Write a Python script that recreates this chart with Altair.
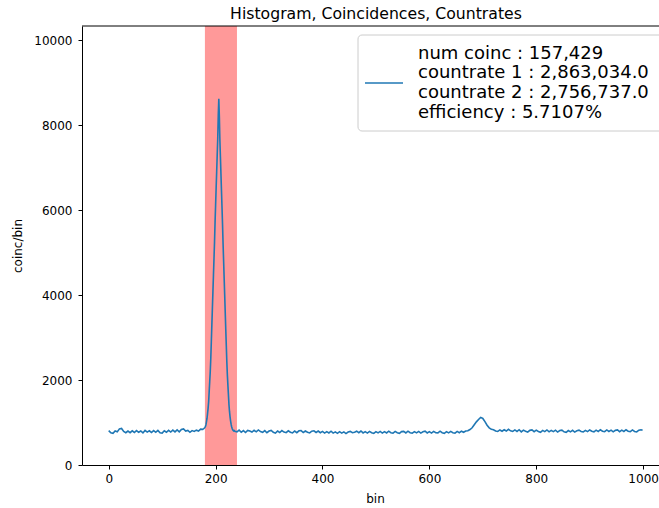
import altair as alt
import pandas as pd

# ---- data ----
step = 4
bins_a = list(range(0, 176, step))          # 0 .. 172
counts_a = [810, 760, 745, 800, 780, 850, 860, 790, 760, 800,
            760, 805, 765, 810, 770, 800, 755, 815, 775, 805,
            765, 810, 770, 815, 760, 750, 805, 770, 815, 775,
            820, 780, 825, 780, 835, 850, 800, 815, 770, 810,
            790, 820, 800, 845]

bins_peak = list(range(176, 237))           # 176 .. 236
counts_peak = [840, 850, 855, 870, 885, 910, 950, 1025, 1100, 1220,
               1340, 1495, 1730, 1965, 2200, 2510, 2900, 3300, 3690, 4080,
               4470, 4860, 5250, 5720, 6110, 6510, 6900, 7290, 7680, 8230,
               8620, 8200, 7650, 7250, 6850, 6450, 6060, 5650, 5200, 4800,
               4400, 4000, 3600, 3200, 2820, 2430, 2120, 1880, 1650, 1420,
               1260, 1140, 1040, 960, 900, 860, 830, 815, 800, 810,
               795]

bins_b = list(range(240, 1000, step)) + [999]
counts_b = [780, 820, 770, 810, 765, 815, 800, 775, 815, 780,
            825, 785, 770, 810, 760, 800, 815, 770, 750, 800,
            765, 810, 775, 760, 805, 770, 755, 800, 760, 805,
            810, 765, 800, 770, 755, 795, 805, 765, 800, 760,
            790, 750, 785, 755, 795, 750, 780, 745, 785, 750,
            780, 740, 775, 790, 760, 770, 795, 760, 800, 755,
            785, 750, 790, 760, 745, 785, 755, 790, 750, 785,
            755, 795, 760, 750, 790, 760, 745, 785, 790, 755,
            795, 760, 750, 785, 755, 790, 750, 780, 795, 755,
            785, 750, 790, 760, 755, 795, 760, 745, 785, 755,
            790, 760, 750, 790, 760, 795, 770, 800, 805, 835,
            875, 945, 1015, 1070, 1120, 1095, 1020, 935, 875, 840,
            830, 800, 790, 825, 795, 830, 800, 840, 805, 790,
            825, 790, 830, 780, 820, 795, 775, 815, 825, 785,
            820, 790, 770, 815, 785, 825, 780, 815, 785, 820,
            775, 810, 820, 780, 770, 810, 780, 815, 775, 805,
            820, 790, 780, 815, 785, 825, 795, 780, 820, 790,
            830, 795, 785, 825, 790, 820, 780, 815, 825, 785,
            820, 790, 830, 795, 785, 825, 790, 780, 820, 830,
            815]

span_start = [180]
span_end = [240]

x_ticks = [0, 200, 400, 600, 800, 1000]
y_ticks = [0, 2000, 4000, 6000, 8000, 10000]
x_domain = [-50, 1029.7]
y_domain = [0, 10330]

legend_lines = ["num coinc : 157,429",
                "countrate 1 : 2,863,034.0",
                "countrate 2 : 2,756,737.0",
                "efficiency : 5.7107%"]

FONT = "DejaVu Sans"
LINE_COLOR = "#1f77b4"

line_df = pd.DataFrame({
    "bin": bins_a + bins_peak + bins_b,
    "count": counts_a + counts_peak + counts_b,
})
span_df = pd.DataFrame({"start": span_start, "end": span_end})
legend_df = pd.DataFrame({"label": ["\n".join(legend_lines)]})

x_scale = alt.Scale(domain=x_domain, nice=False, zero=False)
y_scale = alt.Scale(domain=y_domain, nice=False, zero=False)

span = alt.Chart(span_df).mark_rect(color="#ff0000", opacity=0.4).encode(
    x=alt.X("start:Q", scale=x_scale),
    x2="end:Q",
)

line = alt.Chart(line_df).mark_line(strokeWidth=1.6, color=LINE_COLOR).encode(
    x=alt.X("bin:Q", scale=x_scale,
            axis=alt.Axis(values=x_ticks, format="d", title="bin",
                          titleX=293, titleY=37, titleBaseline="alphabetic")),
    y=alt.Y("count:Q", scale=y_scale,
            axis=alt.Axis(values=y_ticks, format="d", title="coinc/bin")),
)

top_spine = alt.Chart(span_df).mark_rule(color="black", strokeWidth=1).encode(
    y=alt.datum(y_domain[1], scale=y_scale)
)

# legend (drawn by hand, matplotlib style)
legend_frame = alt.Chart(legend_df).mark_rect(
    fill="white", fillOpacity=0.8, stroke="#cccccc", strokeWidth=1,
    cornerRadius=4,
).encode(x=alt.value(276), x2=alt.value(600), y=alt.value(9), y2=alt.value(105))

legend_sample = alt.Chart(legend_df).mark_rule(
    color=LINE_COLOR, strokeWidth=1.5
).encode(x=alt.value(283), x2=alt.value(321), y=alt.value(57))

legend_text = alt.Chart(legend_df).mark_text(
    align="left", baseline="alphabetic", lineBreak="\n", lineHeight=19.7,
    fontSize=18, font=FONT, color="black",
).encode(x=alt.value(336), y=alt.value(32.5), text="label:N")

chart = alt.layer(span, line, top_spine, legend_frame, legend_sample,
                  legend_text).properties(
    width=577, height=439,
    padding={"left": 82, "top": 26, "right": 0, "bottom": 43},
    autosize="none",
    title=alt.Title("Histogram, Coincidences, Countrates", fontSize=15.7,
                    font=FONT, fontWeight="normal", color="black",
                    anchor="middle", dx=5.5, dy=15, offset=6,
                    baseline="alphabetic"),
).configure_view(stroke=None).configure_axis(
    grid=False, domainColor="black", domainWidth=1, tickColor="black",
    tickWidth=1, tickSize=4, labelColor="black", labelFont=FONT,
    labelFontSize=12, titleFont=FONT, titleFontSize=12, titleColor="black",
    titleFontWeight="normal",
).configure_axisY(labelPadding=6, titlePadding=9).configure_axisX(
    labelPadding=4, labelFlush=False
)

chart.save("out.html", embed_options={"renderer": "svg", "actions": False})
